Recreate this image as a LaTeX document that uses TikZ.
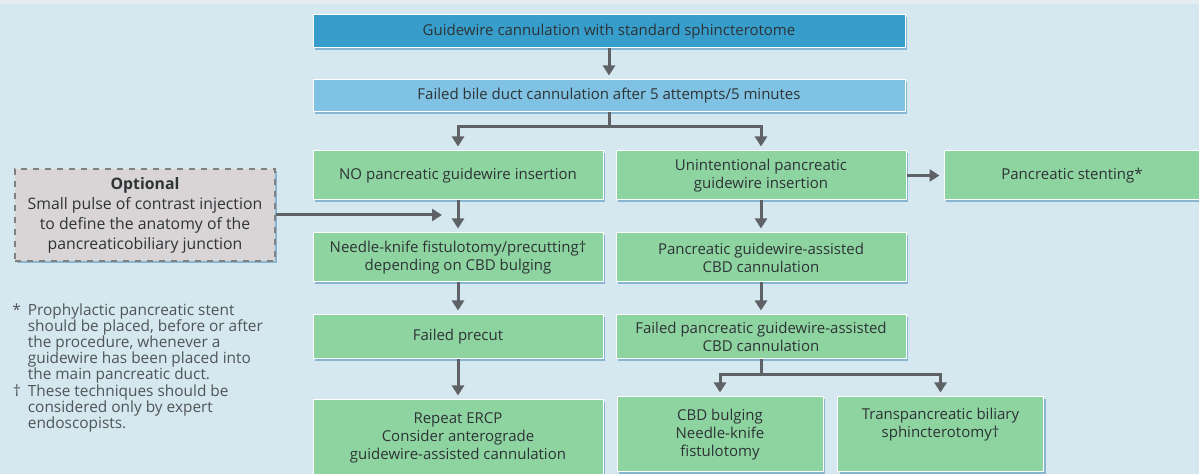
\documentclass[tikz,border=0pt]{standalone}
\usepackage{fontspec}
\setmainfont{Open Sans}
\usetikzlibrary{positioning, calc, arrows.meta, shadows}
\definecolor{StartBlue} {HTML}{379DCB}
\definecolor{FailBlue}  {HTML}{80C2E3}
\definecolor{ActGreen}  {HTML}{8ED4A1}
\definecolor{OptGray}   {HTML}{D9D5D6}
\definecolor{ArrowGray} {HTML}{5E6266}
\definecolor{BgPanel}   {HTML}{D5E7EF}
\definecolor{BgEdge}    {HTML}{E6EDF0}
\definecolor{ShadeBlue} {HTML}{4A8DB6}
\definecolor{InkGray}   {HTML}{2E3336}
\definecolor{NoteGray}  {HTML}{4F5558}
\tikzset{
  every node/.style={font=\fontsize{7.5}{9}\selectfont, text=InkGray},
  % flow boxes
  blk/.style={draw=white, line width=0.5pt, align=center, inner sep=2pt,
              drop shadow={shadow xshift=1pt, shadow yshift=-1pt,
                           fill=ShadeBlue, opacity=0.55}},
  start/.style={blk, fill=StartBlue, minimum width=296pt, minimum height=16.5pt},
  fail/.style ={blk, fill=FailBlue,  minimum width=296pt, minimum height=16pt},
  act/.style  ={blk, fill=ActGreen,  minimum width=145pt, minimum height=24.5pt},
  actlow/.style={act, minimum height=22pt},
  leaf/.style ={blk, fill=ActGreen,  minimum width=103pt, minimum height=37.5pt},
  optbox/.style={blk, draw=gray, dashed, line width=0.6pt, fill=OptGray,
              minimum width=130pt, minimum height=46pt,
              font=\fontsize{7.9}{10}\selectfont},
  note/.style ={align=left, inner sep=0pt, text=NoteGray,
              font=\fontsize{7.7}{7.5}\selectfont},
  % connectors
  link/.style={draw=ArrowGray, line width=1.5pt},
  flow/.style={link, -{Triangle[width=6pt,length=5pt]}, shorten >=2pt},
}

\begin{document}
\begin{tikzpicture}[x=0.5pt, y=-0.5pt]

\fill[BgPanel] (0,0) rectangle (1199,474);
\fill[BgEdge]  (0,0) rectangle (1199,4);
\useasboundingbox (0,0) rectangle (1199,474);

\node[start] (guide) at (609,31.5) {Guidewire cannulation with standard sphincterotome};
\node[fail, below=15.5pt of guide] (bfail) {Failed bile duct cannulation after 5 attempts/5 minutes};

\node[act] (nogw)  at (458,175.5) {NO pancreatic guidewire insertion};
\node[act] (unint) at (761,175.5) {Unintentional pancreatic\\guidewire insertion};
\node[act, minimum width=128pt, right=18.5pt of unint] (stent) {Pancreatic stenting*};

\node[optbox] (opt) at (145,215)
  {\textbf{Optional}\\Small pulse of contrast injection\\to define the anatomy of the\\pancreaticobiliary junction};

\node[act, below=16pt of nogw]  (nk)  {Needle-knife fistulotomy/precutting\textdagger\\depending on CBD bulging};
\node[act, below=16pt of unint] (pgw) {Pancreatic guidewire-assisted\\CBD cannulation};

\node[actlow, below=16pt of nk]  (pcut) {Failed precut};
\node[actlow, below=16pt of pgw] (pgwf) {Failed pancreatic guidewire-assisted\\CBD cannulation};

\node[act, minimum height=37.5pt, below=20pt of pcut] (rep)
  {Repeat ERCP\\Consider anterograde\\guidewire-assisted cannulation};
\node[leaf] (cbd) at (720,434.5) {CBD bulging\\Needle-knife\\fistulotomy};
\node[leaf] (tps) at (940.5,434.5) {Transpancreatic biliary\\sphincterotomy\textdagger\\\strut};

\node[note, anchor=north west] (notes) at (12,303)
  {\begin{tabular}{@{}r@{\hspace{3.5pt}}l@{}}
   * & Prophylactic pancreatic stent\\
     & should be placed, before or after\\
     & the procedure, whenever a\\
     & guidewire has been placed into\\
     & the main pancreatic duct.\\
   \textdagger & These techniques should be\\
     & considered only by expert\\
     & endoscopists.
   \end{tabular}};

% connectors
\draw[flow] (guide) -- (bfail);
\coordinate (fork1) at ($(bfail.south)+(0,14)$);
\draw[link] (bfail.south) -- (fork1);
\draw[flow] (fork1) -| (nogw.north);
\draw[flow] (fork1) -| (unint.north);
\draw[flow] (unint) -- (stent);

\coordinate (optend) at (442,215);
\draw[flow, shorten >=0pt] (opt) -- (optend);
\draw[flow] (nogw) -- (nk);
\draw[flow] (nk) -- (pcut);
\draw[flow] (pcut) -- (rep);

\draw[flow] (unint) -- (pgw);
\draw[flow] (pgw) -- (pgwf);
\coordinate (fork2) at ($(pgwf.south)+(0,15)$);
\draw[link] (pgwf.south) -- (fork2);
\draw[flow] (fork2) -| (cbd.north);
\draw[flow] (fork2) -| (tps.north);

\end{tikzpicture}
\end{document}
